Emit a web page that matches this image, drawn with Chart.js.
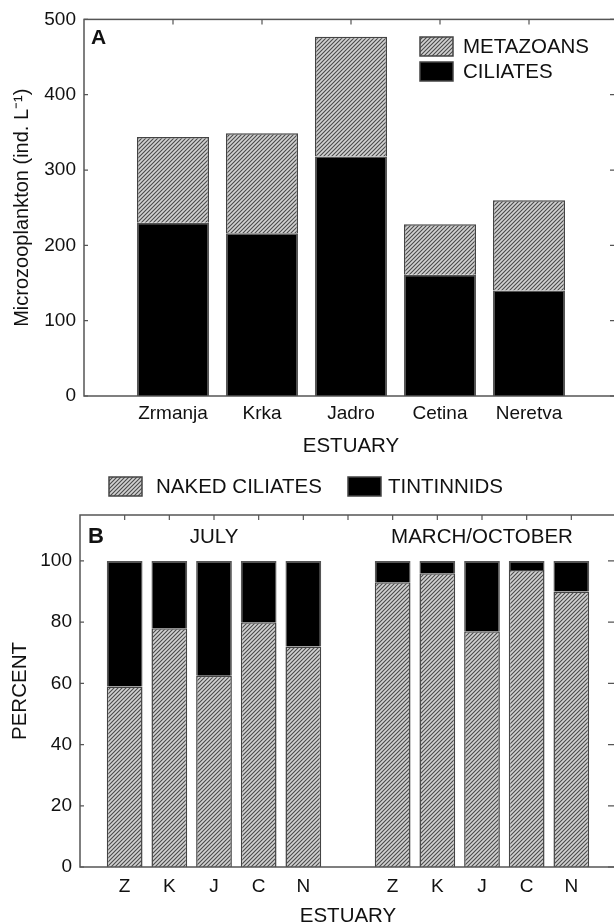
<!DOCTYPE html>
<html>
<head>
<meta charset="utf-8">
<script src="https://cdn.jsdelivr.net/npm/chart.js@4.4.0/dist/chart.umd.min.js"></script>
<style>
  html, body { margin: 0; padding: 0; background: #fff; overflow: hidden; }
  .wrap { position: relative; width: 614px; height: 924px; overflow: hidden; }
  canvas { position: absolute; left: 0; }
  #chartA { top: 0; }
  #chartB { top: 462px; }
</style>
</head>
<body>
<div class="wrap">
  <canvas id="chartA" width="624" height="462"></canvas>
  <canvas id="chartB" width="624" height="462"></canvas>
</div>
<script>
// panel A - abundance per estuary (ind. L-1)
const estuaries = ['Zrmanja', 'Krka', 'Jadro', 'Cetina', 'Neretva'];
const ciliates = [230, 216, 318, 161, 140];
const metazoans = [114, 133, 159, 67, 120];

// panel B - share of ciliate groups (%)
const estuaryCodes = ['Z', 'K', 'J', 'C', 'N'];
const periods = ['JULY', 'MARCH/OCTOBER'];
const julyNaked = [59, 78, 62.5, 80, 72];
const julyTintinnids = [41, 22, 37.5, 20, 28];
const marchNaked = [93, 96, 77, 97, 90];
const marchTintinnids = [7, 4, 23, 3, 10];

Chart.defaults.font.family = '"Liberation Sans", Arial, sans-serif';
Chart.defaults.color = '#111';

// diagonal hatch like the original figure
function makeHatch() {
  const c = document.createElement('canvas');
  c.width = 4; c.height = 4;
  const g = c.getContext('2d');
  g.fillStyle = '#d2d2d2';
  g.fillRect(0, 0, 4, 4);
  g.strokeStyle = '#4a4a4a';
  g.lineWidth = 1.1;
  g.beginPath();
  g.moveTo(0, 4); g.lineTo(4, 0);
  g.moveTo(-1, 1); g.lineTo(1, -1);
  g.moveTo(3, 5); g.lineTo(5, 3);
  g.stroke();
  return g.createPattern(c, 'repeat');
}
const hatch = makeHatch();

// box around plot, inward ticks, panel letters and legend
const framePlugin = {
  id: 'frame',
  afterDatasetsDraw(chart, args, o) {
    const { ctx, chartArea: a, scales: { x, y } } = chart;
    ctx.save();
    ctx.strokeStyle = '#555';
    ctx.lineWidth = 1.5;
    ctx.strokeRect(a.left, a.top, a.right - a.left, a.bottom - a.top);
    ctx.lineWidth = 1.2;
    ctx.beginPath();
    y.ticks.forEach(t => {
      const py = y.getPixelForValue(t.value);
      ctx.moveTo(a.left, py); ctx.lineTo(a.left + 4, py);
      ctx.moveTo(a.right - 8, py); ctx.lineTo(a.right, py);
    });
    x.ticks.forEach(t => {
      if (t.value <= x.min || t.value >= x.max) return;
      const px = x.getPixelForValue(t.value);
      ctx.moveTo(px, a.top); ctx.lineTo(px, a.top + 5);
    });
    ctx.stroke();

    ctx.fillStyle = '#111';
    ctx.textBaseline = 'middle';
    (o.texts || []).forEach(t => {
      ctx.font = t.font;
      ctx.textAlign = t.align || 'center';
      const px = t.x != null ? x.getPixelForValue(t.x) : t.px;
      ctx.fillText(t.text, px, t.y);
    });

    (o.legend || []).forEach(it => {
      const ds = chart.data.datasets[it.dataset];
      ctx.fillStyle = ds.backgroundColor;
      ctx.fillRect(it.x, it.y, 33, 19);
      ctx.strokeStyle = '#444';
      ctx.lineWidth = 1.5;
      ctx.strokeRect(it.x, it.y, 33, 19);
      ctx.fillStyle = '#111';
      ctx.font = '20.5px "Liberation Sans", Arial, sans-serif';
      ctx.textAlign = 'left';
      ctx.fillText(ds.label, it.textX, it.y + 10);
    });
    ctx.restore();
  }
};

const font = (size, bold) => ({ size, weight: bold ? 'bold' : 'normal' });

new Chart(document.getElementById('chartA'), {
  type: 'bar',
  data: {
    datasets: [
      {
        label: 'CILIATES',
        data: ciliates.map((v, i) => ({ x: i + 1, y: v })),
        backgroundColor: '#000',
        borderColor: '#555',
        borderWidth: 1.5
      },
      {
        label: 'METAZOANS',
        data: metazoans.map((v, i) => ({ x: i + 1, y: v })),
        backgroundColor: hatch,
        borderColor: '#444',
        borderWidth: 1.5
      }
    ]
  },
  options: {
    responsive: false,
    animation: false,
    layout: { padding: { top: 17, right: 6, left: 0, bottom: 0 } },
    datasets: { bar: { categoryPercentage: 0.81, barPercentage: 1 } },
    plugins: {
      legend: { display: false },
      tooltip: { enabled: false },
      frame: {
        texts: [{ text: 'A', px: 91, y: 38, align: 'left', font: 'bold 21px "Liberation Sans", Arial, sans-serif' }],
        legend: [
          { dataset: 1, x: 420, y: 37, textX: 463 },
          { dataset: 0, x: 420, y: 62, textX: 463 }
        ]
      }
    },
    scales: {
      x: {
        type: 'linear', min: 0, max: 6, offset: false, stacked: true,
        grid: { display: false, drawTicks: false }, border: { display: false },
        ticks: {
          stepSize: 1, includeBounds: false, autoSkip: false, maxRotation: 0, padding: 6,
          font: font(19), callback: v => estuaries[v - 1] ?? ''
        },
        title: { display: true, text: 'ESTUARY', font: { size: 20.5, lineHeight: 1 }, padding: { top: 0, bottom: 5 } },
        afterFit: s => { s.height = 66; }
      },
      y: {
        min: 0, max: 500, stacked: true,
        grid: { display: false, drawTicks: false }, border: { display: false },
        ticks: { stepSize: 100, padding: 8, font: font(19) },
        title: { display: true, text: 'Microzooplankton (ind. L\u207B\u00B9)', font: font(20), padding: { top: 10, bottom: 0 } },
        afterFit: s => { s.width = 84; }
      }
    }
  },
  plugins: [framePlugin]
});

const julyPts = arr => arr.map((v, i) => ({ x: i + 1, y: v }));
const marchPts = arr => arr.map((v, i) => ({ x: i + 7, y: v }));

new Chart(document.getElementById('chartB'), {
  type: 'bar',
  data: {
    datasets: [
      {
        label: 'NAKED CILIATES',
        data: [...julyPts(julyNaked), ...marchPts(marchNaked)],
        backgroundColor: hatch,
        borderColor: '#444',
        borderWidth: 1.5
      },
      {
        label: 'TINTINNIDS',
        data: [...julyPts(julyTintinnids), ...marchPts(marchTintinnids)],
        backgroundColor: '#000',
        borderColor: '#555',
        borderWidth: 1.5
      }
    ]
  },
  options: {
    responsive: false,
    animation: false,
    layout: { padding: { top: 53, right: 6, left: 0, bottom: 0 } },
    datasets: { bar: { categoryPercentage: 0.8, barPercentage: 1 } },
    plugins: {
      legend: { display: false },
      tooltip: { enabled: false },
      frame: {
        texts: [
          { text: 'B', px: 88, y: 74.5, align: 'left', font: 'bold 22px "Liberation Sans", Arial, sans-serif' },
          { text: periods[0], x: 3, y: 75, font: '20.5px "Liberation Sans", Arial, sans-serif' },
          { text: periods[1], x: 9, y: 75, font: '20.5px "Liberation Sans", Arial, sans-serif' }
        ],
        legend: [
          { dataset: 0, x: 109, y: 15, textX: 156 },
          { dataset: 1, x: 348, y: 15, textX: 388 }
        ]
      }
    },
    scales: {
      x: {
        type: 'linear', min: 0, max: 12, offset: false, stacked: true,
        grid: { display: false, drawTicks: false }, border: { display: false },
        ticks: {
          stepSize: 1, includeBounds: false, autoSkip: false, maxRotation: 0, padding: 8,
          font: font(19),
          callback: v => (v >= 1 && v <= 5) ? estuaryCodes[v - 1] : (v >= 7 && v <= 11) ? estuaryCodes[v - 7] : ''
        },
        title: { display: true, text: 'ESTUARY', font: { size: 20.5, lineHeight: 1 }, padding: { top: 0, bottom: -3 } },
        afterFit: s => { s.height = 57; }
      },
      y: {
        min: 0, max: 115, stacked: true,
        grid: { display: false, drawTicks: false }, border: { display: false },
        ticks: { stepSize: 20, includeBounds: false, padding: 8, font: font(19) },
        title: { display: true, text: 'PERCENT', font: font(20.5), padding: { top: 8, bottom: 0 } },
        afterFit: s => { s.width = 80; }
      }
    }
  },
  plugins: [framePlugin]
});
</script>
</body>
</html>
